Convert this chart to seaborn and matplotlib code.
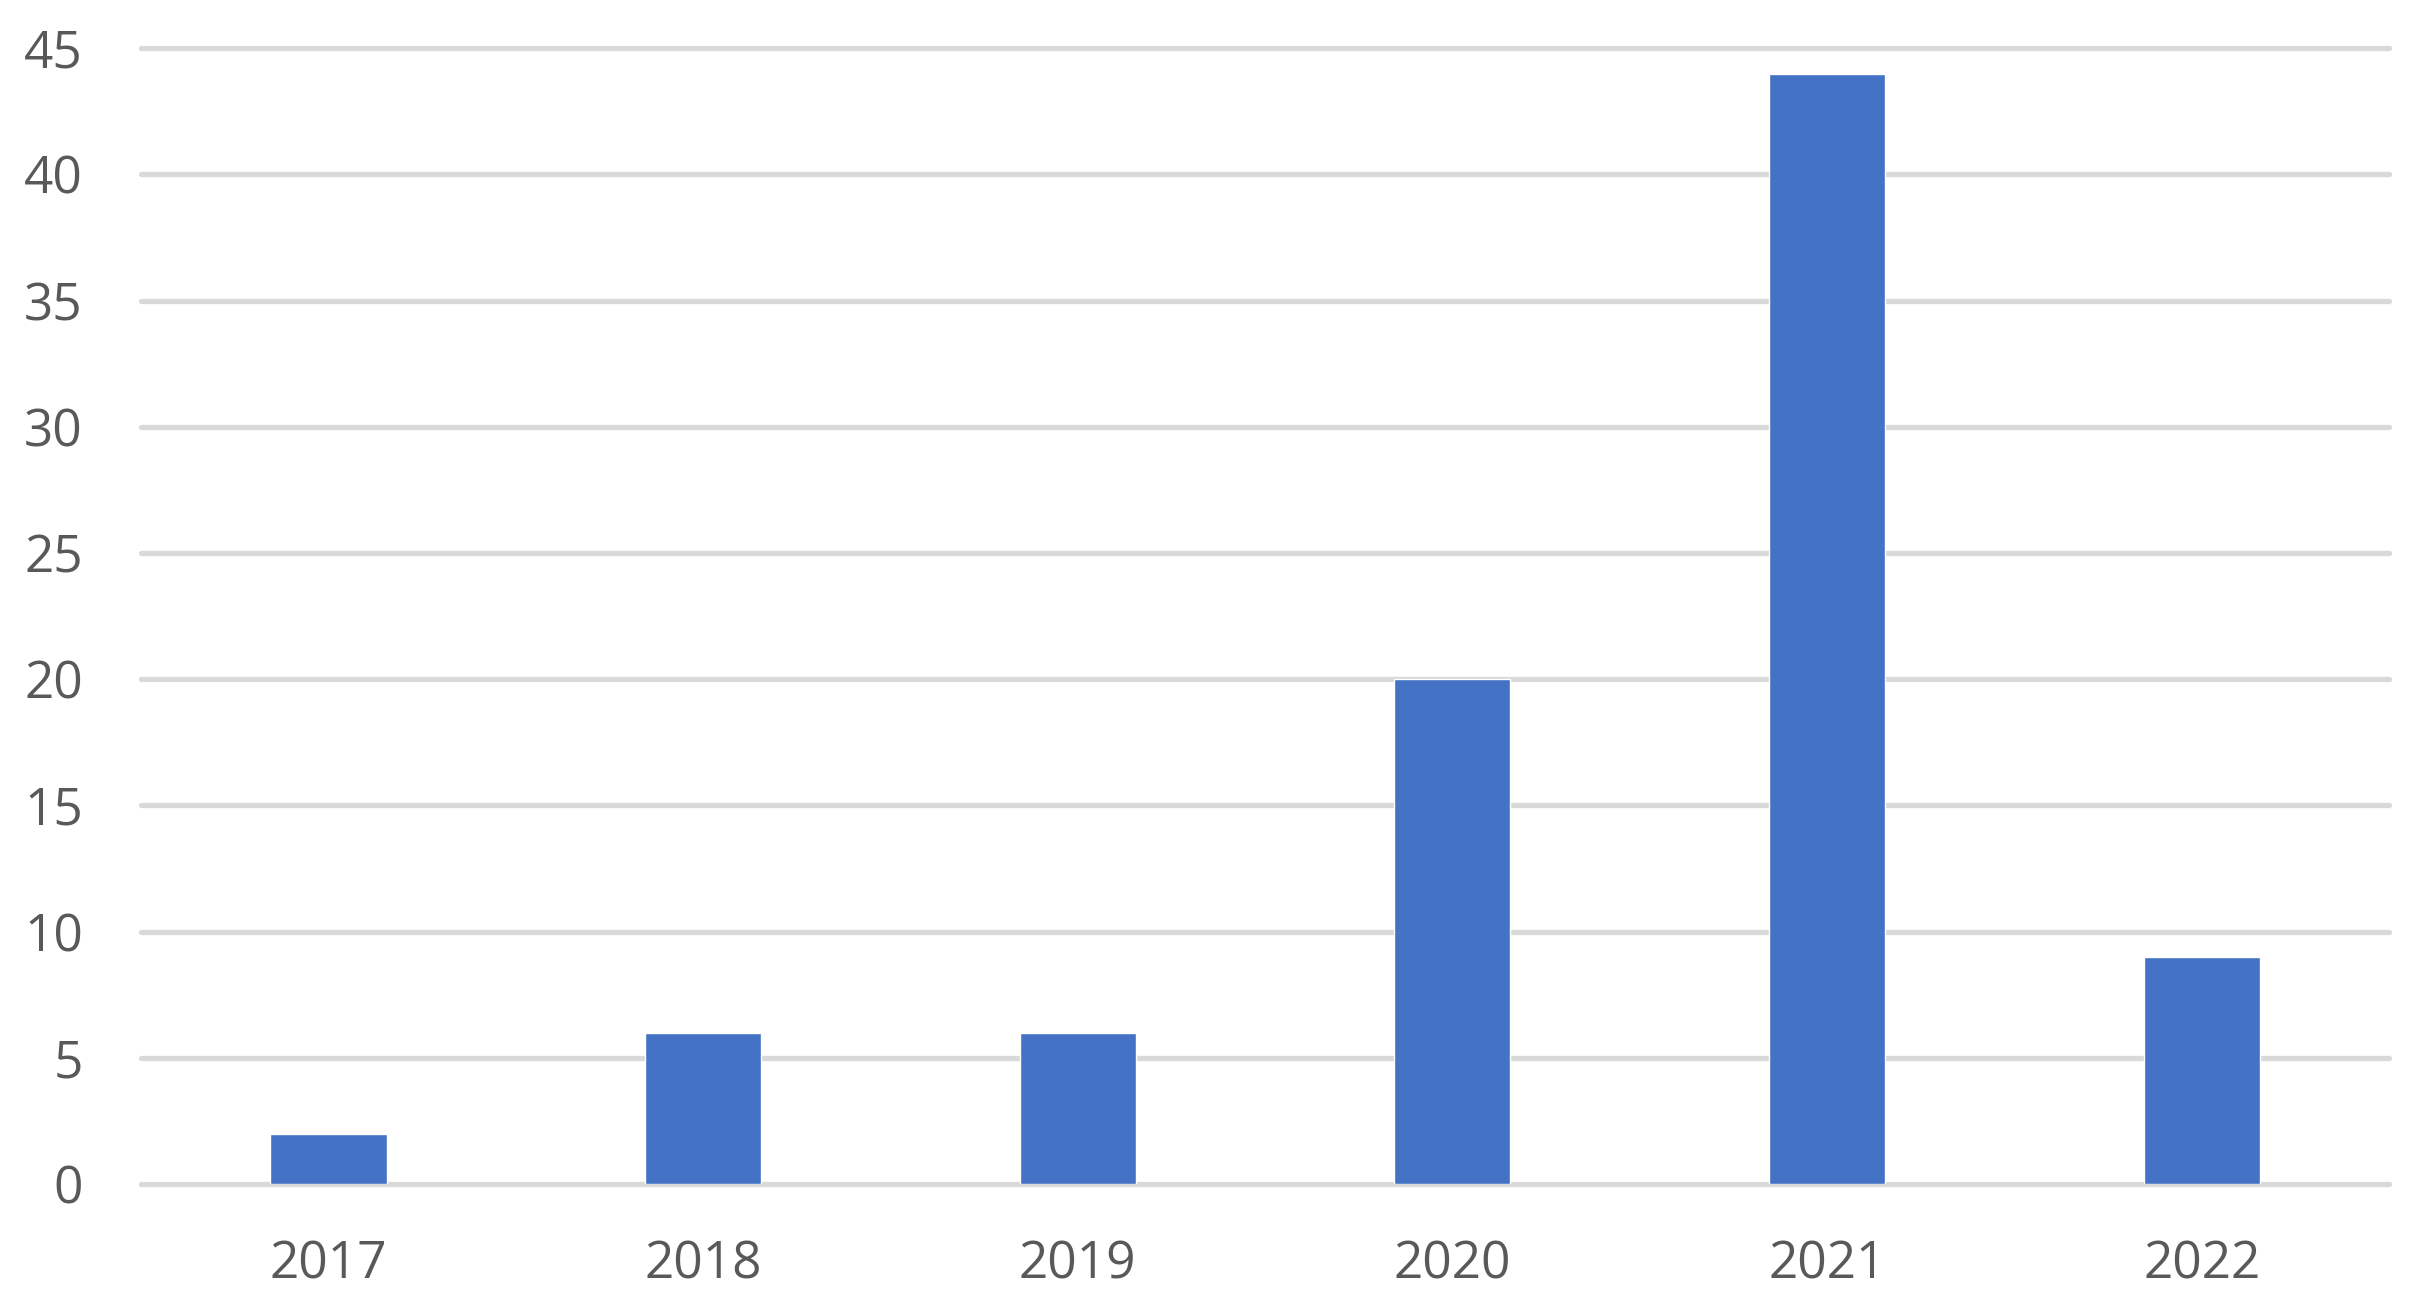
import pandas as pd
import seaborn as sns
from matplotlib import pyplot as plt

years = ["2017", "2018", "2019", "2020", "2021", "2022"]
counts = [2, 6, 6, 20, 44, 9]

df = pd.DataFrame({"year": years, "count": counts})

sns.set_style("white")
plt.rcParams['font.family'] = ['Open Sans', 'DejaVu Sans']

fig = plt.figure(figsize=(24.34, 13.05), dpi=100)
ax = fig.add_axes([0.058, 0.0927, 0.9235, 0.8703])

sns.barplot(data=df, x="year", y="count", color="#4472C4", width=0.31,
            saturation=1, ax=ax, zorder=3)

ax.set_ylim(0, 45)
ax.set_yticks(range(0, 46, 5))
ax.set_xlim(-0.5, 5.5)
ax.grid(axis='y', color='#D9D9D9', linewidth=3.8, zorder=0)
ax.set_axisbelow(True)
for line in ax.get_ygridlines():
    line.set_clip_on(False)
for s in ax.spines.values():
    s.set_visible(False)

ax.tick_params(axis='both', length=0, labelsize=37, labelcolor='#595959')
ax.tick_params(axis='x', pad=40)
ax.tick_params(axis='y', pad=42)
ax.set_xlabel('')
ax.set_ylabel('')

plt.savefig('out.png', dpi=100)
